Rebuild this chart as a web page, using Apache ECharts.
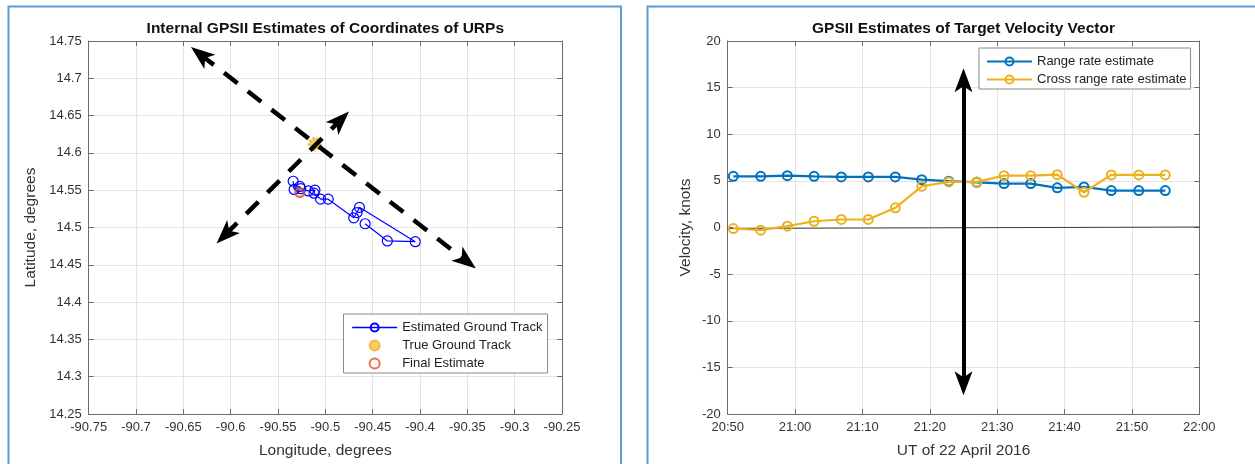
<!DOCTYPE html>
<html>
<head>
<meta charset="utf-8">
<script src="https://cdn.jsdelivr.net/npm/echarts@6/dist/echarts.min.js"></script>
<style>
  html, body { margin: 0; padding: 0; background: #fff; }
  #chart { width: 1255px; height: 464px; }
</style>
</head>
<body>
<div id="chart"></div>
<script>
// ---- left panel: URP coordinates (degrees) ----
const lonTicks = [-90.75, -90.7, -90.65, -90.6, -90.55, -90.5, -90.45, -90.4, -90.35, -90.3, -90.25];
const latTicks = [14.25, 14.3, 14.35, 14.4, 14.45, 14.5, 14.55, 14.6, 14.65, 14.7, 14.75];

// estimated ground track, in time order
const trackLon = [-90.458, -90.4345, -90.405, -90.464, -90.4665, -90.470, -90.497, -90.505,
                  -90.512, -90.511, -90.518, -90.526, -90.527, -90.533, -90.534];
const trackLat = [14.505, 14.482, 14.481, 14.527, 14.520, 14.513, 14.538, 14.538,
                  14.546, 14.550, 14.549, 14.552, 14.555, 14.551, 14.562];
const trueLon = [-90.511];
const trueLat = [14.612];
const finalLon = [-90.527];
const finalLat = [14.547];

// dashed double arrows (centre of each head)
const arrow1Lon = [-90.632, -90.351];
const arrow1Lat = [14.732, 14.455];
const arrow2Lon = [-90.606, -90.484];
const arrow2Lat = [14.490, 14.644];

// ---- right panel: velocity vector ----
const timeTicks = ['20:50', '21:00', '21:10', '21:20', '21:30', '21:40', '21:50', '22:00'];
const velTicks = [-20, -15, -10, -5, 0, 5, 10, 15, 20];
const times = ['20:50:50', '20:54:54', '20:58:51', '21:02:49', '21:06:52', '21:10:52', '21:14:53', '21:18:48',
               '21:22:49', '21:26:58', '21:31:01', '21:34:59', '21:38:55', '21:42:53', '21:46:56', '21:51:01', '21:54:57'];
const rangeRate = [5.49, 5.49, 5.56, 5.49, 5.42, 5.42, 5.42, 5.13,
                   4.97, 4.84, 4.71, 4.71, 4.25, 4.35, 3.96, 3.96, 3.96];
const crossRangeRate = [-0.11, -0.29, 0.14, 0.67, 0.86, 0.86, 2.11, 4.42,
                        4.89, 4.89, 5.56, 5.56, 5.67, 3.78, 5.64, 5.64, 5.64];
const zeroLineTimes = ['20:50:00', '22:00:00'];
const zeroLineVals = [-0.1, 0.05];
// vertical arrow (centre of each head)
const arrowTimes = ['21:25:00', '21:25:00'];
const arrowVals = [15.8, -16.7];

// minutes after 20:50
function toMin(s) {
    const p = s.split(':').map(Number);
    return (p[0] - 20) * 60 + p[1] - 50 + (p[2] || 0) / 60;
}
function pairs(xs, ys) {
    return xs.map((x, i) => [x, ys[i]]);
}

const FONT = 'Liberation Sans, Arial, Helvetica, sans-serif';
const AXIS_COLOR = '#6b6b6b';
const GRID_COLOR = '#e4e4e4';
const LABEL_COLOR = '#333';
// notched arrow head, tip up
const ARROW_HEAD = 'path://M0,0 L9,24 L0,18 L-9,24 Z';

function mainAxis(gridIndex, position, min, max, interval, name, nameGap, formatter) {
    return {
        gridIndex: gridIndex,
        type: 'value',
        position: position,
        min: min, max: max, interval: interval,
        axisLine: {show: true, onZero: false, lineStyle: {color: AXIS_COLOR, width: 1}},
        axisTick: {show: true, inside: true, length: 5, lineStyle: {color: AXIS_COLOR}},
        splitLine: {show: true, lineStyle: {color: GRID_COLOR, width: 1}},
        axisLabel: {fontSize: 13, color: LABEL_COLOR, fontFamily: FONT, margin: 7, formatter: formatter},
        name: name,
        nameLocation: 'middle',
        nameGap: nameGap,
        nameTextStyle: {fontSize: 15.5, color: LABEL_COLOR, fontFamily: FONT}
    }
}
function boxAxis(gridIndex, position, min, max, interval) {
    return {
        gridIndex: gridIndex,
        type: 'value',
        position: position,
        min: min, max: max, interval: interval,
        axisLine: {show: true, onZero: false, lineStyle: {color: AXIS_COLOR, width: 1}},
        axisTick: {show: true, inside: true, length: 5, lineStyle: {color: AXIS_COLOR}},
        splitLine: {show: false},
        axisLabel: {show: false}
    }
}

const lonMin = lonTicks[0], lonMax = lonTicks[lonTicks.length - 1];
const latMin = latTicks[0], latMax = latTicks[latTicks.length - 1];
const tMin = toMin(timeTicks[0] + ':00'), tMax = toMin(timeTicks[timeTicks.length - 1] + ':00');
const vMin = velTicks[0], vMax = velTicks[velTicks.length - 1];

function hollow(color, width) {
    return {color: 'rgba(0,0,0,0)', borderColor: color, borderWidth: width};
}
function arrowLine(lons, lats) {
    return [{coord: [lons[0], lats[0]]}, {coord: [lons[1], lats[1]]}];
}

const chart = echarts.init(document.getElementById('chart'));

chart.setOption({
    animation: false,
    textStyle: {fontFamily: FONT},
    grid: [
        {left: 88.7, top: 41, width: 473.3, height: 374},
        {left: 727.7, top: 41, width: 471.6, height: 374}
    ],
    xAxis: [
        mainAxis(0, 'bottom', lonMin, lonMax, 0.05, 'Longitude, degrees', 29),
        boxAxis(0, 'top', lonMin, lonMax, 0.05),
        mainAxis(1, 'bottom', tMin, tMax, 10, 'UT of 22 April 2016', 29,
            v => timeTicks[Math.round((v - tMin) / 10)]),
        boxAxis(1, 'top', tMin, tMax, 10)
    ],
    yAxis: [
        mainAxis(0, 'left', latMin, latMax, 0.05, 'Latitude, degrees', 50),
        boxAxis(0, 'right', latMin, latMax, 0.05),
        mainAxis(1, 'left', vMin, vMax, 5, 'Velocity, knots', 34),
        boxAxis(1, 'right', vMin, vMax, 5)
    ],
    legend: [
        {
            data: ['Estimated Ground Track', 'True Ground Track', 'Final Estimate'],
            orient: 'vertical',
            left: 343.5, top: 314,
            padding: [7, 5, 3, 8],
            itemWidth: 45, itemHeight: 10, itemGap: 5,
            backgroundColor: '#fff',
            borderColor: '#8a8a8a', borderWidth: 1, borderRadius: 0,
            lineStyle: {width: 1.3},
            textStyle: {fontSize: 13, color: '#222', fontFamily: FONT},
            selectedMode: false
        },
        {
            data: ['Range rate estimate', 'Cross range rate estimate'],
            orient: 'vertical',
            left: 979, top: 48,
            padding: [7, 4, 3, 7],
            itemWidth: 45, itemHeight: 10, itemGap: 5,
            backgroundColor: '#fff',
            borderColor: '#8a8a8a', borderWidth: 1, borderRadius: 0,
            textStyle: {fontSize: 13, color: '#222', fontFamily: FONT},
            selectedMode: false
        }
    ],
    graphic: [
        {type: 'rect', shape: {x: 8.5, y: 6.5, width: 612.5, height: 470},
         style: {fill: null, stroke: '#5b9bd5', lineWidth: 2}, silent: true},
        {type: 'rect', shape: {x: 647.5, y: 6.5, width: 620, height: 470},
         style: {fill: null, stroke: '#5b9bd5', lineWidth: 2}, silent: true},
        {type: 'text', x: 325.3, y: 29,
         style: {text: 'Internal GPSII Estimates of Coordinates of URPs', font: 'bold 15.5px ' + FONT,
                 fill: '#111', textAlign: 'center', textVerticalAlign: 'middle'}},
        {type: 'text', x: 963.5, y: 29,
         style: {text: 'GPSII Estimates of Target Velocity Vector', font: 'bold 15.5px ' + FONT,
                 fill: '#111', textAlign: 'center', textVerticalAlign: 'middle'}}
    ],
    series: [
        {
            name: 'Estimated Ground Track',
            type: 'line',
            xAxisIndex: 0, yAxisIndex: 0,
            data: pairs(trackLon, trackLat),
            symbol: 'circle', symbolSize: 10, showAllSymbol: true,
            lineStyle: {color: '#0000ff', width: 1.2},
            itemStyle: hollow('#0000ff', 1.2),
            z: 3
        },
        {
            name: 'True Ground Track',
            type: 'scatter',
            xAxisIndex: 0, yAxisIndex: 0,
            data: pairs(trueLon, trueLat),
            symbol: 'circle', symbolSize: 11,
            itemStyle: {color: '#F2C23E', borderColor: '#EDB120', borderWidth: 3.5, borderType: [2.2, 1.6]},
            z: 3
        },
        {
            name: 'Final Estimate',
            type: 'scatter',
            xAxisIndex: 0, yAxisIndex: 0,
            data: pairs(finalLon, finalLat),
            symbol: 'circle', symbolSize: 9,
            itemStyle: hollow('#D95319', 2.4),
            z: 4
        },
        {
            name: 'arrows-left',
            type: 'scatter',
            xAxisIndex: 0, yAxisIndex: 0,
            data: [],
            z: 5,
            markLine: {
                silent: true,
                symbol: [ARROW_HEAD, ARROW_HEAD],
                symbolSize: 24,
                symbolKeepAspect: true,
                label: {show: false},
                lineStyle: {color: '#000', width: 4.5, type: [17, 13]},
                itemStyle: {color: '#000'},
                emphasis: {disabled: true},
                data: [
                    arrowLine(arrow1Lon, arrow1Lat),
                    arrowLine(arrow2Lon, arrow2Lat)
                ]
            }
        },
        {
            name: 'zero',
            type: 'line',
            xAxisIndex: 2, yAxisIndex: 2,
            data: pairs(zeroLineTimes.map(toMin), zeroLineVals),
            symbol: 'none',
            lineStyle: {color: '#111', width: 0.8},
            z: 2
        },
        {
            name: 'Range rate estimate',
            type: 'line',
            xAxisIndex: 2, yAxisIndex: 2,
            data: pairs(times.map(toMin), rangeRate),
            symbol: 'circle', symbolSize: 9, showAllSymbol: true,
            lineStyle: {color: '#0072BD', width: 2.2},
            itemStyle: hollow('#0072BD', 2),
            z: 3
        },
        {
            name: 'Cross range rate estimate',
            type: 'line',
            xAxisIndex: 2, yAxisIndex: 2,
            data: pairs(times.map(toMin), crossRangeRate),
            symbol: 'circle', symbolSize: 9, showAllSymbol: true,
            lineStyle: {color: '#EDB120', width: 2.2},
            itemStyle: hollow('#EDB120', 2),
            z: 4
        },
        {
            name: 'arrow-right',
            type: 'scatter',
            xAxisIndex: 2, yAxisIndex: 2,
            data: [],
            z: 5,
            markLine: {
                silent: true,
                symbol: [ARROW_HEAD, ARROW_HEAD],
                symbolSize: 24,
                symbolKeepAspect: true,
                label: {show: false},
                lineStyle: {color: '#000', width: 4, type: 'solid'},
                itemStyle: {color: '#000'},
                emphasis: {disabled: true},
                data: [
                    arrowLine(arrowTimes.map(toMin), arrowVals)
                ]
            }
        }
    ]
});
</script>
</body>
</html>
